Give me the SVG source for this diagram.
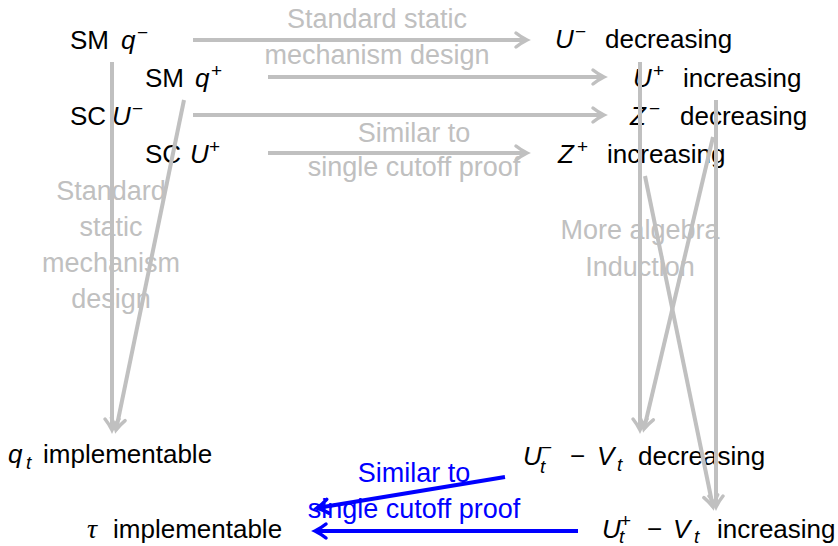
<svg xmlns="http://www.w3.org/2000/svg" width="838" height="546" viewBox="0 0 838 546">
<style>
text{font-family:"Liberation Sans",Arial,sans-serif;font-size:26px;fill:#000}
.i{font-style:italic}
.s{font-size:19px}
.tau{font-family:"Liberation Serif","Times New Roman",serif;font-style:italic;font-size:28px}
.lbl{font-size:27px;fill:#c0c0c0;text-anchor:middle}
.blbl{font-size:27px;fill:#0000ff;text-anchor:middle}
.g{stroke:#c0c0c0;stroke-width:4;fill:none;marker-end:url(#ag)}
.b{stroke:#0000ff;stroke-width:4;fill:none;marker-end:url(#ab)}
</style>
<defs>
<marker id="ag" markerUnits="userSpaceOnUse" viewBox="-13 -9 15 18" refX="0" refY="0" markerWidth="15" markerHeight="18" orient="auto" overflow="visible">
<path d="M-11,-7 C-6,-3 -2,-1 0,0 C-2,1 -6,3 -11,7" stroke="#c0c0c0" stroke-width="3.5" fill="none" stroke-linecap="round"/>
</marker>
<marker id="ab" markerUnits="userSpaceOnUse" viewBox="-13 -9 15 18" refX="0" refY="0" markerWidth="15" markerHeight="18" orient="auto" overflow="visible">
<path d="M-11,-7 C-6,-3 -2,-1 0,0 C-2,1 -6,3 -11,7" stroke="#0000ff" stroke-width="3.5" fill="none" stroke-linecap="round"/>
</marker>
</defs>
<rect width="838" height="546" fill="#fff"/>

<g id="n-smqm"><text x="70" y="49">SM</text><text class="i" x="121" y="49">q</text><text class="s" x="137" y="39">−</text></g>
<g id="n-smqp"><text x="145" y="87">SM</text><text class="i" x="195" y="87">q</text><text class="s" x="211" y="77">+</text></g>
<g id="n-scum"><text x="70" y="125">SC</text><text class="i" x="112" y="125">U</text><text class="s" x="132" y="115">−</text></g>
<g id="n-scup"><text x="145" y="163">SC</text><text class="i" x="190" y="163">U</text><text class="s" x="209" y="153">+</text></g>
<g id="n-umdec"><text class="i" x="555" y="48">U</text><text class="s" x="575" y="38">−</text><text x="605" y="48">decreasing</text></g>
<g id="n-upinc"><text class="i" x="633" y="87">U</text><text class="s" x="653" y="77">+</text><text x="683" y="87">increasing</text></g>
<g id="n-zmdec"><text class="i" x="630" y="125">Z</text><text class="s" x="649" y="115">−</text><text x="680" y="125">decreasing</text></g>
<g id="n-zpinc"><text class="i" x="558" y="163">Z</text><text class="s" x="577" y="153">+</text><text x="607" y="163">increasing</text></g>
<g id="n-qt"><text class="i" x="8" y="463">q</text><text class="i s" x="26" y="469">t</text><text x="43" y="463">implementable</text></g>
<g id="n-tau"><text class="tau" x="87" y="538">τ</text><text x="113" y="538">implementable</text></g>
<g id="n-utmdec"><text class="i" x="523" y="465">U</text><text class="s" x="541" y="454">−</text><text class="i s" x="540" y="473">t</text><text x="570" y="465">−</text><text class="i" x="597" y="465">V</text><text class="i s" x="617" y="471">t</text><text x="638" y="465">decreasing</text></g>
<g id="n-utpinc"><text class="i" x="602" y="538">U</text><text class="s" x="620" y="527">+</text><text class="i s" x="619" y="543">t</text><text x="647" y="538">−</text><text class="i" x="673" y="538">V</text><text class="i s" x="694" y="543">t</text><text x="717" y="538">increasing</text></g>

<g id="connectors">
<text class="lbl" x="377" y="28">Standard static</text>
<text class="lbl" x="377" y="64">mechanism design</text>
<text class="lbl" x="414" y="142">Similar to</text>
<text class="lbl" x="414" y="176">single cutoff proof</text>
<text class="lbl" x="111" y="200">Standard</text>
<text class="lbl" x="111" y="236">static</text>
<text class="lbl" x="111" y="272">mechanism</text>
<text class="lbl" x="111" y="308">design</text>
<text class="lbl" x="640" y="239">More algebra</text>
<text class="lbl" x="640" y="276">Induction</text>
<text class="blbl" x="414" y="482">Similar to</text>
<text class="blbl" x="414" y="518">single cutoff proof</text>

<line class="g" x1="193" y1="40" x2="527" y2="40"/>
<line class="g" x1="268" y1="77" x2="604" y2="77"/>
<line class="g" x1="193" y1="115" x2="604" y2="115"/>
<line class="g" x1="268" y1="153" x2="527" y2="153"/>
<line class="g" x1="112" y1="62" x2="112" y2="430"/>
<line class="g" x1="184" y1="100" x2="116" y2="430"/>
<line class="g" x1="640" y1="62" x2="640" y2="430"/>
<line class="g" x1="713" y1="137" x2="644" y2="429"/>
<line class="g" x1="716" y1="100" x2="716" y2="507"/>
<line class="g" x1="645" y1="176" x2="713" y2="507"/>
<line class="b" x1="505" y1="477" x2="317" y2="508"/>
<line class="b" x1="578" y1="531" x2="315" y2="531"/>
</g>
</svg>
